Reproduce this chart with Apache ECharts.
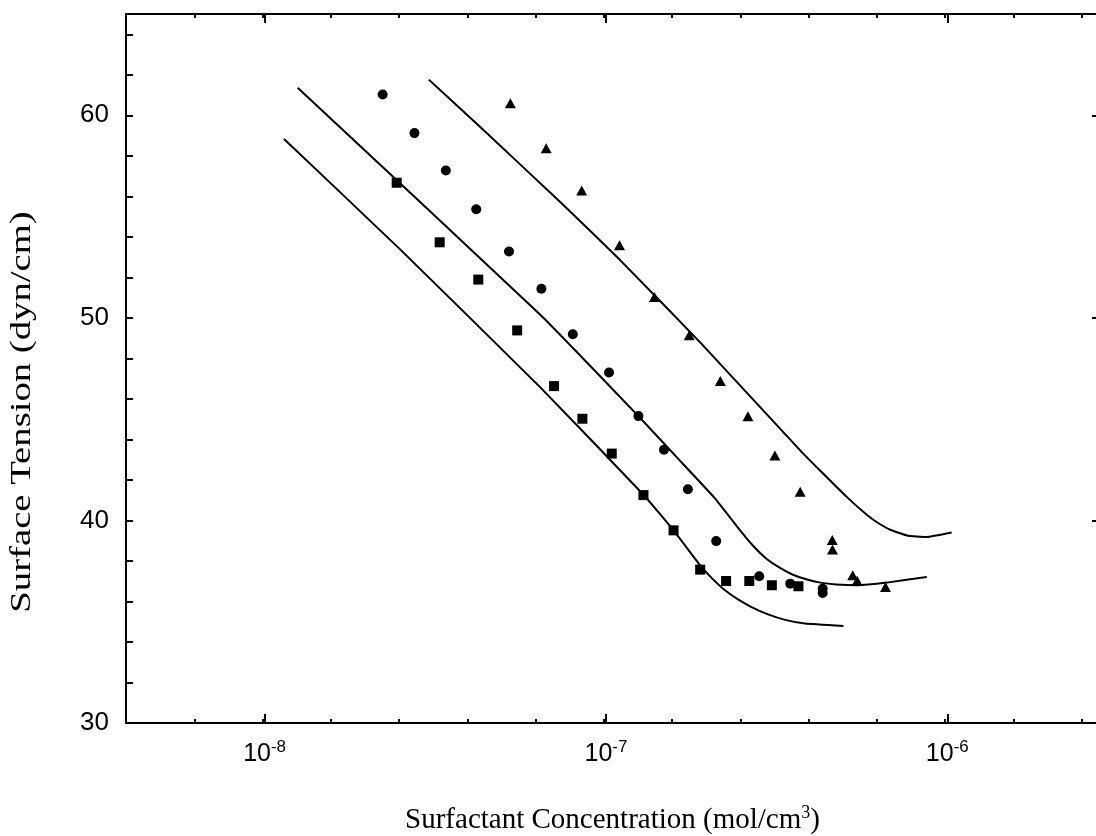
<!DOCTYPE html>
<html><head><meta charset="utf-8">
<script src="https://cdn.jsdelivr.net/npm/echarts@6/dist/echarts.min.js"></script>
<style>html,body{margin:0;padding:0;background:#fff}#c{width:1096px;height:836px}</style>
</head><body><div id="c"></div>
<script>
// ---- data (concentration in mol/cm^3, surface tension in dyn/cm) ----
const circleConc = [2.218e-8, 2.748e-8, 3.396e-8, 4.169e-8, 5.20e-8, 6.471e-8, 7.998e-8, 1.021e-7, 1.245e-7, 1.479e-7, 1.738e-7, 2.104e-7, 2.812e-7, 3.467e-7, 4.315e-7, 4.315e-7];
const circleTension = [61.03, 59.12, 57.27, 55.36, 53.28, 51.44, 49.19, 47.30, 45.15, 43.49, 41.54, 38.98, 37.24, 36.88, 36.63, 36.42];

const squareConc = [2.438e-8, 3.258e-8, 4.227e-8, 5.495e-8, 7.047e-8, 8.531e-8, 1.040e-7, 1.288e-7, 1.578e-7, 1.888e-7, 2.249e-7, 2.630e-7, 3.062e-7, 3.664e-7];
const squareTension = [56.67, 53.73, 51.89, 49.38, 46.63, 45.02, 43.30, 41.25, 39.51, 37.57, 37.01, 37.01, 36.80, 36.75];

const triangleConc = [5.248e-8, 6.683e-8, 8.492e-8, 1.096e-7, 1.387e-7, 1.754e-7, 2.163e-7, 2.606e-7, 3.126e-7, 3.707e-7, 4.603e-7, 4.61e-7, 5.284e-7, 5.445e-7, 6.592e-7];
const triangleTension = [60.60, 58.37, 56.29, 53.58, 51.03, 49.14, 46.88, 45.14, 43.21, 41.42, 39.04, 38.56, 37.29, 37.02, 36.71];

const curveAConc = [1.140e-8, 2.495e-8, 6.412e-8, 1.288e-7, 1.578e-7, 1.888e-7, 2.046e-7, 2.218e-7, 2.438e-7, 2.679e-7, 2.985e-7, 3.350e-7, 3.828e-7, 4.966e-7];
const curveATension = [58.83, 53.38, 46.58, 41.27, 39.51, 37.78, 37.14, 36.59, 36.10, 35.71, 35.36, 35.09, 34.91, 34.79];

const curveBConc = [1.250e-8, 6.412e-8, 1.245e-7, 1.614e-7, 2.089e-7, 2.472e-7, 2.698e-7, 2.958e-7, 3.236e-7, 3.532e-7, 3.882e-7, 4.246e-7, 4.721e-7, 5.433e-7, 6.653e-7, 8.710e-7];
const curveBTension = [61.36, 50.17, 45.15, 43.11, 41.08, 39.51, 38.75, 38.10, 37.66, 37.32, 37.08, 36.93, 36.84, 36.80, 36.93, 37.21];

const curveCConc = [3.027e-8, 4.276e-8, 7.345e-8, 1.102e-7, 1.888e-7, 3.707e-7, 4.246e-7, 5.082e-7, 5.808e-7, 6.223e-7, 6.808e-7, 7.621e-7, 8.710e-7, 1.030e-6];
const curveCTension = [61.76, 59.43, 55.72, 52.84, 48.79, 43.46, 42.45, 41.15, 40.28, 39.91, 39.54, 39.26, 39.18, 39.40];

const xMajorExponents = [-9, -8, -7, -6, -5];   // decade ticks (10^n)
const yTickLabels = [30, 40, 50, 60];

// ---- layout ----
const W = 1096, H = 836;
const GL = 126, GR = -3, GT = 14, GB = 113;
const PX_PER_DECADE = 341.35;
const XMIN = -8.406;                                   // log10 at left frame
const XMAX = XMIN + (W - GL - GR) / PX_PER_DECADE;     // log10 at right frame
const YMIN = 30, YMAX = 65;
const G2L = GL - (XMIN - xMajorExponents[0]) * PX_PER_DECADE;
const G2R = GR - (xMajorExponents[xMajorExponents.length - 1] - XMAX) * PX_PER_DECADE;

const toXY = (c, t) => c.map((v, i) => [Math.log10(v), t[i]]);
const black = '#000';
const sansFont = '"Liberation Sans", Arial, Helvetica, sans-serif';
const serifFont = '"Liberation Serif", "Times New Roman", serif';

const chart = echarts.init(document.getElementById('c'), null, {renderer: 'canvas'});
const lineStyleBase = {color: black, width: 2};
const tickStyle = {color: black, width: 2};
const curveSmooth = 0.12;
const option = {
  animation: false,
  backgroundColor: '#fff',
  grid: [
    {left: GL, right: GR, top: GT, bottom: GB, containLabel: false, outerBoundsMode: 'none'},
    {left: G2L, right: G2R, top: GT, bottom: GB, containLabel: false, outerBoundsMode: 'none'}
  ],
  xAxis: [
    { // minor ticks bottom + frame + title
      type: 'value', gridIndex: 0, position: 'bottom', min: XMIN, max: XMAX, interval: 0.2,
      axisLine: {show: true, onZero: false, lineStyle: lineStyleBase},
      axisTick: {show: true, inside: true, length: 4, lineStyle: tickStyle},
      axisLabel: {show: false}, splitLine: {show: false},
      name: '{a|Surfactant Concentration (mol/cm}{s|3}{a|)}',
      nameLocation: 'middle', nameGap: 81,
      nameTextStyle: {
        rich: {
          a: {fontFamily: serifFont, fontSize: 29, color: black, verticalAlign: 'bottom'},
          s: {fontFamily: serifFont, fontSize: 18, color: black, verticalAlign: 'bottom', padding: [0, 0, 13, 0]}
        }
      }
    },
    { // minor ticks top + frame
      type: 'value', gridIndex: 0, position: 'top', min: XMIN, max: XMAX, interval: 0.2,
      axisLine: {show: true, onZero: false, lineStyle: lineStyleBase},
      axisTick: {show: true, inside: true, length: 4, lineStyle: tickStyle},
      axisLabel: {show: false}, splitLine: {show: false}
    },
    { // decade ticks + labels bottom
      type: 'value', gridIndex: 1, position: 'bottom',
      min: xMajorExponents[0], max: xMajorExponents[xMajorExponents.length - 1], interval: 1,
      axisLine: {show: false, onZero: false},
      axisTick: {show: true, inside: true, length: 9, lineStyle: tickStyle},
      splitLine: {show: false},
      axisLabel: {
        show: true, margin: 16, hideOverlap: false,
        formatter: v => '{b|10}{s|' + Math.round(v) + '}',
        rich: {
          b: {fontFamily: sansFont, fontSize: 25, color: black, verticalAlign: 'bottom'},
          s: {fontFamily: sansFont, fontSize: 17, color: black, verticalAlign: 'bottom', padding: [0, 0, 11, 0]}
        }
      }
    },
    { // decade ticks top
      type: 'value', gridIndex: 1, position: 'top',
      min: xMajorExponents[0], max: xMajorExponents[xMajorExponents.length - 1], interval: 1,
      axisLine: {show: false, onZero: false},
      axisTick: {show: true, inside: true, length: 9, lineStyle: tickStyle},
      axisLabel: {show: false}, splitLine: {show: false}
    }
  ],
  yAxis: [
    {
      type: 'value', gridIndex: 0, position: 'left', min: YMIN, max: YMAX, interval: 2,
      axisLine: {show: true, onZero: false, lineStyle: lineStyleBase},
      axisTick: {show: true, inside: true, length: 7, lineStyle: tickStyle},
      splitLine: {show: false},
      axisLabel: {
        show: true, margin: 17, color: black, fontFamily: sansFont, fontSize: 26,
        formatter: v => (yTickLabels.indexOf(Math.round(v)) >= 0 && Math.abs(v - Math.round(v)) < 1e-6) ? String(Math.round(v)) : ''
      }
    },
    {
      type: 'value', gridIndex: 0, position: 'right', min: YMIN, max: YMAX, interval: 10,
      axisLine: {show: true, onZero: false, lineStyle: lineStyleBase},
      axisTick: {show: true, inside: true, length: 7, lineStyle: tickStyle},
      axisLabel: {show: false}, splitLine: {show: false}
    },
    {
      type: 'value', gridIndex: 1, min: YMIN, max: YMAX, show: false
    }
  ],
  graphic: [
    {
      type: 'text', x: 22, y: 412, rotation: Math.PI / 2, scaleX: 1.29,
      style: {text: 'Surface Tension (dyn/cm)', font: '30px ' + serifFont, fill: black, align: 'center', verticalAlign: 'middle'}
    }
  ],
  series: [
    {type: 'line', xAxisIndex: 0, yAxisIndex: 0, data: toXY(curveAConc, curveATension), showSymbol: false, smooth: curveSmooth, lineStyle: {color: black, width: 2}, z: 2},
    {type: 'line', xAxisIndex: 0, yAxisIndex: 0, data: toXY(curveBConc, curveBTension), showSymbol: false, smooth: curveSmooth, lineStyle: {color: black, width: 2}, z: 2},
    {type: 'line', xAxisIndex: 0, yAxisIndex: 0, data: toXY(curveCConc, curveCTension), showSymbol: false, smooth: curveSmooth, lineStyle: {color: black, width: 2}, z: 2},
    {type: 'scatter', xAxisIndex: 0, yAxisIndex: 0, data: toXY(circleConc, circleTension), symbol: 'circle', symbolSize: 10, itemStyle: {color: black, opacity: 1}, z: 3},
    {type: 'scatter', xAxisIndex: 0, yAxisIndex: 0, data: toXY(squareConc, squareTension), symbol: 'rect', symbolSize: 10, itemStyle: {color: black, opacity: 1}, z: 3},
    {type: 'scatter', xAxisIndex: 0, yAxisIndex: 0, data: toXY(triangleConc, triangleTension), symbol: 'triangle', symbolSize: [11, 10], itemStyle: {color: black, opacity: 1}, z: 3}
  ]
};
chart.setOption(option);
</script>
</body></html>
